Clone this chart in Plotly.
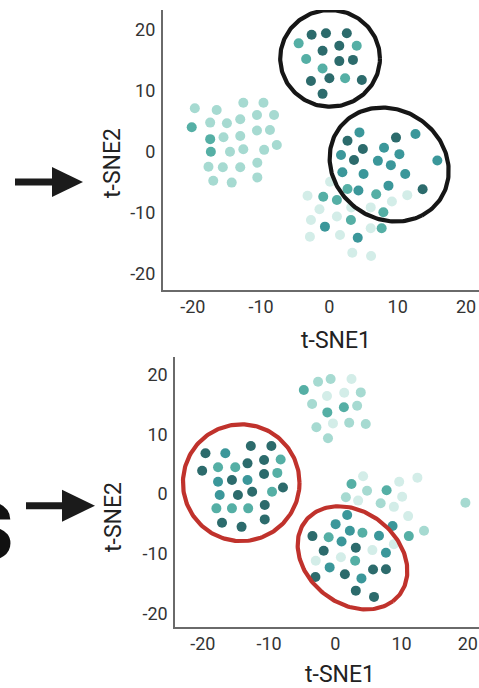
import numpy as np
import plotly.graph_objects as go

W, H = 479, 688

# ---------------- data: top panel ----------------
top_x = [-4.5, -2.6, -0.5, 2.55, -1.0, 1.45, 4.0, -3.4, 1.45, 3.45, -1.0, -2.7, 0.0, 2.3, 4.75, -1.0,
         -19.7, -16.5, -12.6, -9.65, -20.15, -17.45, -15.0, -13.05, -10.6, -8.1,
         -17.45, -15.5, -13.05, -10.6, -8.7, -17.35, -14.55, -12.6, -9.55, -7.7,
         -17.7, -15.6, -13.05, -10.55, -17.0, -14.3, -10.55,
         4.4, 2.65, 4.9, 9.75, 12.6, 8.0, 1.7, 3.6, 7.1, 9.0, 10.25, 15.8, 1.9, 5.0, 11.1,
         8.65, 4.25, 6.85, 13.65, 2.65, 7.9, 11.4,
         0.1, -3.2, -0.9, 1.1, 3.2, -1.45, 1.1, 3.15, -2.7, -0.65, 6.05, 9.15, 6.05, 7.65, -2.85,
         1.55, 4.15, 3.35, 6.1]
top_y = [17.7, 19.1, 19.35, 19.35, 16.5, 17.3, 17.3, 15.15, 14.8, 15.0, 13.6, 11.55, 12.0, 12.0, 11.7, 9.45,
         7.1, 6.8, 8.0, 8.0, 4.0, 4.75, 4.65, 5.3, 6.0, 6.0,
         2.05, 2.35, 2.55, 3.45, 3.55, 0.0, 0.0, 0.4, 0.3, 1.1,
         -2.45, -2.55, -2.55, -1.8, -4.75, -5.05, -4.2,
         3.15, 1.8, 0.45, 2.3, 2.9, 0.65, -0.55, -1.35, -1.5, -2.2, -0.4, -1.45, -3.35, -3.65, -3.65,
         -5.55, -6.35, -6.95, -6.15, -6.1, -9.9, -7.1,
         -4.9, -7.2, -7.35, -7.9, -9.1, -9.4, -10.6, -11.15, -11.15, -12.25, -9.1, -8.15, -12.5, -12.5, -13.9,
         -13.6, -14.05, -16.5, -17.05]
top_shade = ["mid", "dark", "dark", "dark", "dark", "dark", "mid", "mid", "dark", "dark", "mid", "dark", "dark", "mid", "dark", "dark",
             "light", "light", "light", "light", "mid", "light", "light", "light", "light", "light",
             "mid", "light", "light", "light", "light", "mid", "light", "light", "light", "light",
             "light", "light", "light", "light", "light", "light", "light",
             "teal", "dark", "dark", "dark", "teal", "teal", "teal", "dark", "teal", "teal", "teal", "teal", "teal", "teal", "teal",
             "teal", "teal", "mid", "dark", "mid", "mid", "pale",
             "pale", "pale", "mid", "mid", "pale", "pale", "pale", "mid", "pale", "teal", "pale", "pale", "pale", "mid", "pale",
             "pale", "teal", "pale", "pale"]

# ---------------- data: bottom panel ----------------
bot_x = [-19.6, -16.6, -12.75, -9.65, -20.1, -17.7, -15.1, -13.25, -10.75, -8.25,
         -17.7, -15.6, -13.25, -10.75, -8.75, -17.45, -14.7, -12.55, -9.55, -7.9,
         -17.95, -15.6, -13.15, -10.65, -17.1, -14.15, -10.65,
         -4.75, -2.6, -0.7, 2.45, -1.25, 1.35, 3.85, -3.5, -1.2, 1.3, 3.3, -2.85, -0.35, 2.1, 4.6, -1.1,
         4.2, 2.45, 4.8, 7.75, 9.65, 12.4, 1.6, 3.45, 6.85, 8.85, 10.1, 11.0, 8.65, 11.1, 13.4, 19.65, 8.85, 5.6,
         1.8, 0.05, 2.2, 4.1, 6.6, -3.45, -1.0, 0.95, 3.1, -1.75, 7.65, -2.95, 0.85, 3.0, -0.85,
         5.7, 7.65, -3.0, 1.45, 3.95, 3.1, 5.85]
bot_y = [6.85, 6.85, 8.05, 8.05, 3.9, 4.5, 4.5, 5.15, 5.7, 5.8,
         2.05, 2.35, 2.35, 3.35, 3.55, -0.15, -0.15, 0.4, 0.4, 1.1,
         -2.4, -2.4, -2.4, -1.85, -4.8, -5.5, -4.25,
         17.45, 18.85, 19.3, 19.3, 16.45, 17.0, 17.05, 15.1, 13.7, 14.55, 14.8, 11.2, 11.85, 11.95, 11.75, 9.35,
         3.0, 1.7, 0.55, 0.65, 2.05, 2.75, -0.55, -1.1, -1.55, -2.15, -0.45, -3.7, -5.35, -7.05, -6.15, -1.45, -8.4, -9.4,
         -3.5, -5.05, -6.15, -6.5, -7.0, -7.05, -7.25, -7.95, -9.0, -9.5, -9.85, -11.2, -10.6, -11.2, -12.3,
         -12.65, -12.6, -13.9, -13.45, -14.15, -16.2, -17.25]
bot_shade = ["dark", "teal", "dark", "dark", "dark", "mid", "mid", "dark", "dark", "mid",
             "teal", "dark", "teal", "dark", "mid", "teal", "dark", "dark", "mid", "dark",
             "mid", "mid", "mid", "dark", "dark", "dark", "dark",
             "mid", "light", "light", "pale", "pale", "pale", "light", "light", "mid", "mid", "light", "light", "pale", "light", "light", "light",
             "pale", "mid", "light", "mid", "pale", "pale", "light", "pale", "light", "pale", "pale", "pale", "teal", "mid", "light", "light", "pale", "pale",
             "teal", "teal", "teal", "mid", "teal", "dark", "mid", "teal", "dark", "dark", "teal", "pale", "pale", "mid", "teal",
             "dark", "dark", "dark", "dark", "teal", "dark", "dark"]

tick_vals = [-20, -10, 0, 10, 20]
tick_text = ["-20", "-10", "0", "10", "20"]
x_title = "t-SNE1"
y_title = "t-SNE2"

# cluster outlines: centre x, centre y, semi-axis a, semi-axis b, rotation (deg)
top_rings = [(0.1, 15.25, 7.3, 7.9, 0), (8.75, -2.1, 9.6, 8.4, -60)]
bot_rings = [(-14.2, 1.9, 8.8, 9.8, 0), (2.6, -10.7, 9.5, 7.3, -50)]

shade_colors = {"pale": "#d3ede8", "light": "#a6dad1", "mid": "#55afa5",
                "teal": "#3b979a", "dark": "#2c6b6c"}
shade_order = ["pale", "light", "mid", "teal", "dark"]


def px(x):
    return x / W


def py(y):
    return 1 - y / H


fig = go.Figure()


def add_points(xs, ys, shades, xa, ya):
    for s in shade_order:
        sx = [x for x, c in zip(xs, shades) if c == s]
        sy = [y for y, c in zip(ys, shades) if c == s]
        fig.add_trace(go.Scatter(x=sx, y=sy, mode="markers", xaxis=xa, yaxis=ya,
                                 marker=dict(size=10, color=shade_colors[s], line=dict(width=0)),
                                 showlegend=False, hoverinfo="skip"))


def add_rings(rings, color, xa, ya):
    t = np.linspace(0, 2 * np.pi, 200)
    for cx, cy, a, b, ang in rings:
        r = np.deg2rad(ang)
        ex = cx + a * np.cos(t) * np.cos(r) - b * np.sin(t) * np.sin(r)
        ey = cy + a * np.cos(t) * np.sin(r) + b * np.sin(t) * np.cos(r)
        fig.add_trace(go.Scatter(x=ex, y=ey, mode="lines", xaxis=xa, yaxis=ya,
                                 line=dict(color=color, width=4.2), showlegend=False,
                                 hoverinfo="skip"))


add_points(top_x, top_y, top_shade, "x", "y")
add_rings(top_rings, "#161616", "x", "y")
add_points(bot_x, bot_y, bot_shade, "x2", "y2")
add_rings(bot_rings, "#c0322c", "x2", "y2")

axis_common = dict(showgrid=False, zeroline=False, showline=True, linecolor="#6a6a6a",
                   linewidth=1.5, ticks="", tickvals=tick_vals, ticktext=tick_text,
                   tickfont=dict(family="Roboto", size=18, color="#333333"))
xaxis_style = dict(axis_common, ticklabelstandoff=0)
yaxis_style = dict(axis_common, ticklabelstandoff=2)

fig.update_layout(
    width=W, height=H, margin=dict(l=0, r=0, t=0, b=0),
    paper_bgcolor="white", plot_bgcolor="white",
    xaxis=dict(domain=[px(162.7), 1], anchor="y", range=[-24.4, 21.9], **xaxis_style),
    yaxis=dict(domain=[py(290), py(10)], anchor="x", range=[-22.6, 23.15], **yaxis_style),
    xaxis2=dict(domain=[px(175), 1], anchor="y2", range=[-24.2, 21.7], **xaxis_style),
    yaxis2=dict(domain=[py(627), py(356.7)], anchor="x2", range=[-22.3, 23.04], **yaxis_style),
)

title_font = dict(family="Roboto", size=23, color="#222222")
annos = [
    dict(text=x_title, x=px(336), y=py(340), xref="paper", yref="paper", showarrow=False,
         font=title_font, xanchor="center", yanchor="middle"),
    dict(text=y_title, x=px(113), y=py(163), xref="paper", yref="paper", showarrow=False,
         font=title_font, textangle=-90, xanchor="center", yanchor="middle"),
    dict(text=x_title, x=px(340), y=py(674), xref="paper", yref="paper", showarrow=False,
         font=title_font, xanchor="center", yanchor="middle"),
    dict(text=y_title, x=px(113), y=py(517), xref="paper", yref="paper", showarrow=False,
         font=title_font, textangle=-90, xanchor="center", yanchor="middle"),
    dict(text="s", x=px(17), y=py(522), xref="paper", yref="paper", showarrow=False,
         font=dict(family="Roboto", size=110, color="#111111", weight=700),
         xanchor="right", yanchor="middle"),
]
fig.update_layout(annotations=annos)


def arrow(x0, x1, xt, yc, half_shaft, half_head):
    shaft = dict(type="rect", xref="paper", yref="paper",
                 x0=px(x0), x1=px(x1), y0=py(yc + half_shaft), y1=py(yc - half_shaft),
                 fillcolor="#1b1b1b", line=dict(width=0))
    head = dict(type="path", xref="paper", yref="paper",
                path=f"M {px(x1 - 3)} {py(yc - half_head)} L {px(xt)} {py(yc)} L {px(x1 - 3)} {py(yc + half_head)} Z",
                fillcolor="#1b1b1b", line=dict(width=0))
    return [shaft, head]


shapes = arrow(15, 55, 83, 182, 3.5, 15) + arrow(26, 65, 95, 505.7, 3.5, 16)
fig.update_layout(shapes=shapes)

fig.write_html("out.html", config={"displayModeBar": False},
               post_script="document.body.style.margin='0';document.body.style.overflow='hidden';")
